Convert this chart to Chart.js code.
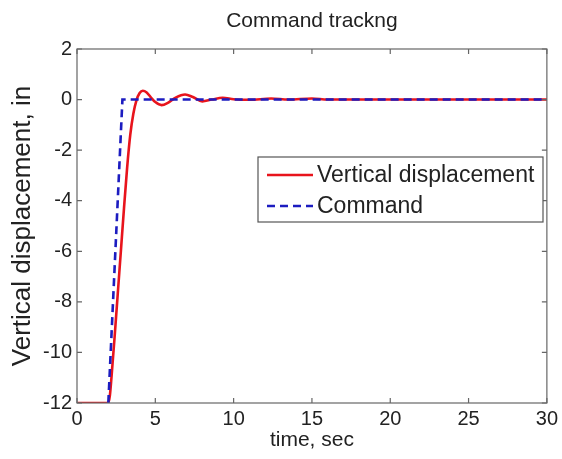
<!DOCTYPE html>
<html>
<head>
<meta charset="utf-8">
<script src="https://cdn.jsdelivr.net/npm/chart.js@4.4.1/dist/chart.umd.min.js"></script>
<style>
html,body{margin:0;padding:0;background:#fff;}
#wrap{width:562px;height:459px;position:relative;}
</style>
</head>
<body>
<div id="wrap"><canvas id="c"></canvas></div>
<script>
// ---- data ----
const respTime  = [0, 2.0, 2.1, 2.2, 2.4, 2.6, 2.8, 3.0, 3.2, 3.4, 3.6, 3.8, 4.0, 4.2, 4.45, 4.7, 5.0, 5.4, 5.8, 6.3, 6.9, 7.4, 8.0, 8.6, 9.3, 10.0, 11.0, 12.4, 13.5, 15.0, 16.0, 30];
const respValue = [-12, -12, -11.7, -11.0, -9.4, -7.7, -6.0, -4.3, -2.7, -1.4, -0.55, -0.02, 0.26, 0.35, 0.28, 0.1, -0.1, -0.22, -0.13, 0.08, 0.2, 0.1, -0.07, 0.0, 0.07, 0.01, -0.01, 0.04, 0.0, 0.04, 0.0, 0];
const cmdTime   = [2.0, 2.9, 30];
const cmdValue  = [-12, 0, 0];
const xTicks = [0, 5, 10, 15, 20, 25, 30];
const yTicks = [-12, -10, -8, -6, -4, -2, 0, 2];
const seriesNames = ['Vertical displacement', 'Command'];
const chartTitle = 'Command trackng';

const toXY = (ts, vs) => ts.map((t, i) => ({x: t, y: vs[i]}));

const AXIS = '#666666';
const TEXT = '#222222';
const FONT = "'Liberation Sans', Arial, sans-serif";

const boxPlugin = {
  id: 'boxPlugin',
  afterDraw(chart) {
    const ctx = chart.ctx, a = chart.chartArea;
    const xs = chart.scales.x, ys = chart.scales.y;
    ctx.save();
    // title centred over the plot box
    ctx.fillStyle = TEXT;
    ctx.font = "21px " + FONT;
    ctx.textAlign = 'center';
    ctx.textBaseline = 'middle';
    ctx.fillText(chartTitle, (a.left + a.right) / 2, 21);

    ctx.strokeStyle = AXIS;
    ctx.lineWidth = 1.2;
    ctx.strokeRect(a.left, a.top, a.right - a.left, a.bottom - a.top);
    const L = 5;
    ctx.beginPath();
    xTicks.forEach(v => {
      const px = xs.getPixelForValue(v);
      ctx.moveTo(px, a.bottom); ctx.lineTo(px, a.bottom - L);
      ctx.moveTo(px, a.top); ctx.lineTo(px, a.top + L);
    });
    yTicks.forEach(v => {
      const py = ys.getPixelForValue(v);
      ctx.moveTo(a.left, py); ctx.lineTo(a.left + L, py);
      ctx.moveTo(a.right, py); ctx.lineTo(a.right - L, py);
    });
    ctx.stroke();

    // legend box
    const lx = 258, ly = 157, lw = 285, lh = 65;
    ctx.fillStyle = '#ffffff';
    ctx.fillRect(lx, ly, lw, lh);
    ctx.strokeStyle = '#555555';
    ctx.lineWidth = 1.2;
    ctx.strokeRect(lx, ly, lw, lh);
    [0, 1].forEach((di, r) => {
      const ds = chart.data.datasets[di];
      const cy = ly + 18 + r * 31;
      ctx.beginPath();
      ctx.strokeStyle = ds.borderColor;
      ctx.lineWidth = ds.borderWidth;
      ctx.setLineDash(ds.borderDash || []);
      ctx.moveTo(lx + 9, cy); ctx.lineTo(lx + 55, cy);
      ctx.stroke();
      ctx.setLineDash([]);
      ctx.fillStyle = TEXT;
      ctx.font = "23px " + FONT;
      ctx.textBaseline = 'middle';
      ctx.textAlign = 'left';
      ctx.fillText(ds.label, lx + 59, cy + 1);
    });
    ctx.restore();
  }
};

new Chart(document.getElementById('c'), {
  type: 'line',
  data: {
    datasets: [
      {
        label: seriesNames[0],
        data: toXY(respTime, respValue),
        borderColor: '#e8141c',
        borderWidth: 2.6,
        pointRadius: 0,
        cubicInterpolationMode: 'monotone',
        order: 1
      },
      {
        label: seriesNames[1],
        data: toXY(cmdTime, cmdValue),
        borderColor: '#1c1cc0',
        borderWidth: 2.6,
        borderDash: [8, 5],
        pointRadius: 0,
        tension: 0,
        order: 0
      }
    ]
  },
  options: {
    responsive: true,
    maintainAspectRatio: false,
    animation: false,
    layout: { padding: { left: 0, right: 14, top: 49, bottom: 0 } },
    plugins: {
      legend: { display: false },
      tooltip: { enabled: false },
      title: { display: false }
    },
    scales: {
      x: {
        type: 'linear',
        min: 0, max: 30,
        afterBuildTicks: s => { s.ticks = xTicks.map(v => ({value: v})); },
        afterFit: s => { s.height = 56; },
        grid: { display: false, drawTicks: false },
        border: { display: false },
        ticks: { color: TEXT, font: { family: FONT, size: 20 }, padding: 4, maxRotation: 0 },
        title: { display: true, text: 'time, sec', color: TEXT, font: { family: FONT, size: 21 }, padding: { top: 0, bottom: 6 } }
      },
      y: {
        type: 'linear',
        min: -12, max: 2,
        afterBuildTicks: s => { s.ticks = yTicks.map(v => ({value: v})); },
        afterFit: s => { s.width = 77; },
        grid: { display: false, drawTicks: false },
        border: { display: false },
        ticks: { color: TEXT, font: { family: FONT, size: 20 }, padding: 5 },
        title: { display: true, text: 'Vertical displacement, in', color: TEXT, font: { family: FONT, size: 26 }, padding: { top: 7, bottom: 0 } }
      }
    }
  },
  plugins: [boxPlugin]
});
</script>
</body>
</html>
